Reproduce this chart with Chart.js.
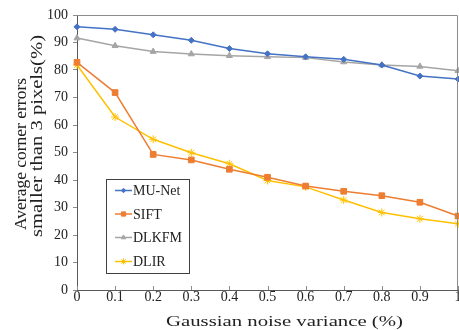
<!DOCTYPE html>
<html><head><meta charset="utf-8">
<script src="https://cdn.jsdelivr.net/npm/chart.js@4/dist/chart.umd.min.js"></script>
<style>html,body{margin:0;padding:0;background:#fff;overflow:hidden}#wrap{width:459px;height:330px;overflow:hidden;position:relative}</style>
</head><body><div id="wrap"><canvas id="c" width="463" height="330" style="width:463px;height:330px"></canvas></div>
<script>
const categories = ['0','0.1','0.2','0.3','0.4','0.5','0.6','0.7','0.8','0.9','1'];
const muNet = [95.7, 94.8, 92.8, 90.8, 87.8, 85.9, 84.8, 83.9, 81.8, 77.8, 76.7];
const sift  = [82.8, 71.8, 49.3, 47.3, 43.9, 41.0, 37.8, 35.9, 34.3, 31.9, 26.9];
const dlkfm = [91.6, 88.8, 86.7, 85.8, 85.2, 84.8, 84.5, 82.9, 81.8, 81.3, 79.7];
const dlir  = [81.8, 62.9, 54.8, 49.9, 45.9, 39.8, 37.5, 32.7, 28.2, 25.9, 24.1];
const seriesNames = ['MU-Net','SIFT','DLKFM','DLIR'];
const yTitle = ['Average corner errors','smaller than 3 pixels(%)'];
const xTitle = 'Gaussian noise variance (%)';

const FONT = '"Liberation Serif", "DejaVu Serif", serif';
Chart.defaults.font.family = FONT;
const colors = ['#4472C4','#ED7D31','#A5A5A5','#FFC000'];
const styles = ['rectRot','rect','triangle','star'];
const radii = [3, 4, 3.5, 4];

const datasets = [muNet, sift, dlkfm, dlir].map((d,i)=>({
  label: seriesNames[i], data: d, borderColor: colors[i], backgroundColor: colors[i],
  borderWidth: 1.5, pointStyle: styles[i], pointRadius: radii[i], pointBorderWidth: 1,
  tension: 0, fill: false
}));

// draws text stretched along its reading direction to a given length
function fitText(ctx, text, font, cx, baseY, length, angle) {
  ctx.save();
  ctx.font = font;
  ctx.translate(cx, baseY);
  ctx.rotate(angle);
  const w = ctx.measureText(text).width;
  ctx.scale(length / w, 1);
  ctx.textAlign = 'center'; ctx.textBaseline = 'alphabetic';
  ctx.fillText(text, 0, 0);
  ctx.restore();
}

const framePlugin = {
  id: 'frame',
  afterDatasetsDraw(chart) {
    const {ctx, chartArea: a} = chart;
    ctx.save();
    ctx.strokeStyle = '#8c8c8c'; ctx.lineWidth = 1;
    ctx.beginPath();
    ctx.moveTo(a.left, a.top + 0.5); ctx.lineTo(a.right - 0.5, a.top + 0.5);
    ctx.lineTo(a.right - 0.5, a.bottom);
    ctx.stroke();
    // inward x tick marks
    const xs = chart.scales.x;
    ctx.beginPath();
    xs.ticks.forEach((t, i) => {
      const px = Math.round(xs.getPixelForTick(i)) + 0.5;
      ctx.moveTo(px, a.bottom); ctx.lineTo(px, a.bottom - 4);
    });
    ctx.stroke();
    ctx.restore();
  },
  afterDraw(chart) {
    const ctx = chart.ctx;
    ctx.save();
    ctx.fillStyle = '#222';
    fitText(ctx, yTitle[0], '17px ' + FONT, 26, 154, 152, -Math.PI / 2);
    fitText(ctx, yTitle[1], '17px ' + FONT, 41.5, 136, 202, -Math.PI / 2);
    ctx.restore();
    ctx.save();
    ctx.fillStyle = '#222';
    ctx.font = '15px ' + FONT;
    const w = ctx.measureText(xTitle).width;
    ctx.translate(284.5, 325.5);
    ctx.scale(237 / w, 1);
    ctx.textAlign = 'center'; ctx.textBaseline = 'alphabetic';
    ctx.fillText(xTitle, 0, 0);
    ctx.restore();
  }
};

const legendPlugin = {
  id: 'boxLegend',
  afterDraw(chart) {
    const ctx = chart.ctx;
    const x0 = 106, y0 = 179, w = 83, h = 94;
    ctx.save();
    ctx.fillStyle = '#fff'; ctx.fillRect(x0, y0, w, h);
    ctx.strokeStyle = '#404040'; ctx.lineWidth = 1;
    ctx.strokeRect(x0 + 0.5, y0 + 0.5, w, h);
    const rows = [190.5, 214, 237.5, 261.5];
    chart.data.datasets.forEach((ds, i) => {
      const y = rows[i];
      ctx.strokeStyle = ds.borderColor; ctx.lineWidth = 1.5;
      ctx.beginPath(); ctx.moveTo(115, y); ctx.lineTo(132, y); ctx.stroke();
      ctx.fillStyle = ds.borderColor; ctx.strokeStyle = ds.borderColor; ctx.lineWidth = 1;
      Chart.helpers.drawPoint(ctx, {pointStyle: ds.pointStyle, radius: ds.pointRadius * 0.75, rotation: 0, borderWidth: 1}, 123.5, y);
      ctx.fillStyle = '#222'; ctx.font = '14px ' + FONT;
      ctx.textBaseline = 'middle'; ctx.textAlign = 'left';
      ctx.fillText(ds.label, 133, y + 1);
    });
    ctx.restore();
  }
};

function build() {
new Chart(document.getElementById('c'), {
  type: 'line',
  data: { labels: categories, datasets },
  plugins: [framePlugin, legendPlugin],
  options: {
    responsive: false, maintainAspectRatio: false, animation: false, devicePixelRatio: 1,
    layout: { padding: { top: 15, right: 0, left: 0, bottom: 0 } },
    plugins: { legend: { display: false }, tooltip: { enabled: false } },
    scales: {
      x: {
        type: 'category', offset: false,
        grid: { display: true, drawOnChartArea: false, drawTicks: false, color: '#8c8c8c' },
        border: { color: '#595959', width: 1 },
        ticks: { color: '#222', font: { family: FONT, size: 14 }, padding: -1, maxRotation: 0, autoSkip: false },
        title: { display: false },
        afterFit(s) { s.height = 40; }
      },
      y: {
        min: 0, max: 100,
        grid: { display: true, drawOnChartArea: false, tickLength: 4, color: '#8c8c8c' },
        border: { color: '#595959', width: 1 },
        ticks: { stepSize: 10, color: '#222', font: { family: FONT, size: 14 }, padding: 5 },
        title: { display: false },
        afterFit(s) { s.width = 77; }
      }
    }
  }
});
}
if (document.fonts && document.fonts.load) {
  Promise.all([document.fonts.load('15px "Liberation Serif"')]).then(build, build);
} else build();
</script></body></html>
